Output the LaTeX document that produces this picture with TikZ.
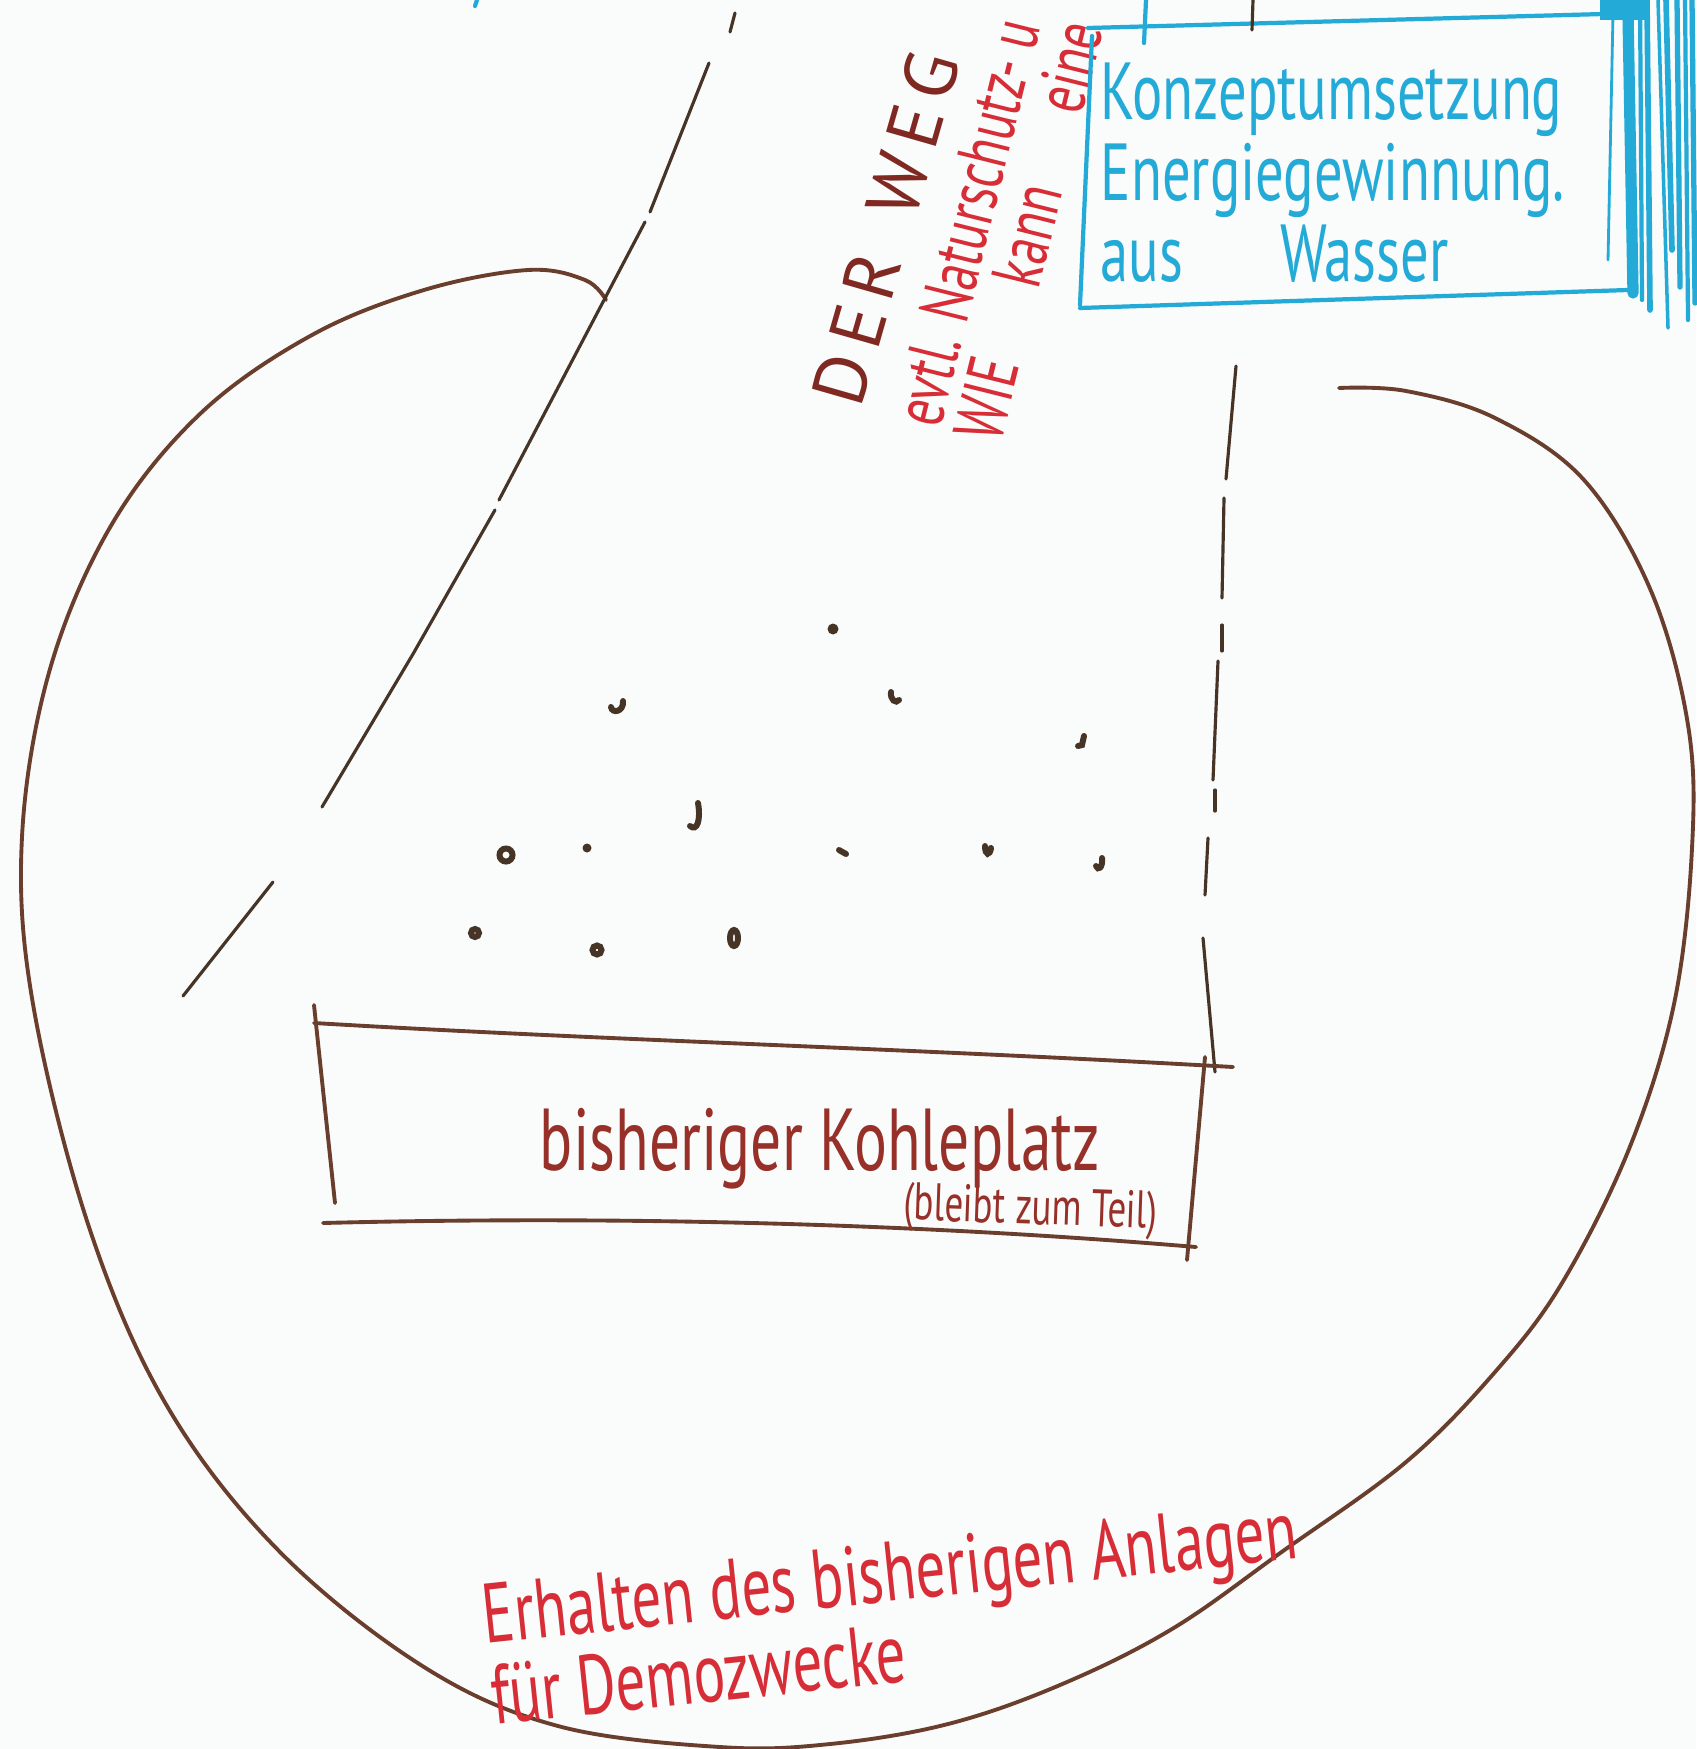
\documentclass[tikz,border=0pt]{standalone}
\usepackage{fontspec}
\setmainfont{PT Sans}
\newfontfamily\hand[FakeStretch=0.7]{PT Sans}
\usetikzlibrary{positioning}
\definecolor{board}{RGB}{250,251,251}
\definecolor{penbrown}{RGB}{105,62,45}
\definecolor{pendark}{RGB}{70,52,38}
\definecolor{inkbrown}{RGB}{150,48,40}
\definecolor{penred}{RGB}{215,45,55}
\definecolor{penblue}{RGB}{35,170,215}

\begin{document}
\begin{tikzpicture}[x = 0.01cm, y = -0.01cm,
		outline/.style = {draw = penbrown, line width = 1.1pt, line cap = round},
		pathline/.style = {draw = pendark, line width = 0.9pt, line cap = round},
		dotpen/.style = {draw = pendark, line width = 1.7pt, line cap = round},
		bluebox/.style = {draw = penblue, line width = 1.2pt, line cap = round},
		hatch/.style = {draw = penblue, line cap = round},
		boxtext/.style = {color = inkbrown, inner sep = 0},
		notetext/.style = {color = penred, inner sep = 0, align = left},
		bluetext/.style = {color = penblue, inner sep = 0, align = left}]
		\fill [board] (0,0) rectangle (1696,1749);
		\useasboundingbox (0,0) rectangle (1696,1749);
		% Big outline round the site
		\draw [outline] plot [smooth, tension = 0.6] coordinates {(606,300) (585,280) (528,270) (424,290) (312,335) (201,413) (112,524) (50,669) (22,837) (33,1004) (89,1227) (167,1406) (279,1551) (424,1667) (558,1726) (720,1747) (830,1744) (948,1724) (1060,1685) (1172,1629) (1283,1551) (1406,1462) (1495,1372) (1562,1283) (1629,1149) (1674,1004) (1692,848) (1688,725) (1651,591) (1584,480) (1495,418) (1406,391) (1339,388)};
		% The way (dashed diagonal)
		\draw [pathline] (735,13) -- (730,32);
		\draw [pathline] (709,63) -- (650,212);
		\draw [pathline] (645,222) -- (499,500);
		\draw [pathline] (495,510) -- (413,654) -- (322,807);
		\draw [pathline] (273,882) -- (183,996);
		% Dashed border on the right
		\draw [pathline] (1236,366) -- (1226,479);
		\draw [pathline] (1224,498) -- (1222,598);
		\draw [pathline] (1222,625) -- (1222,651);
		\draw [pathline] (1218,661) -- (1213,780);
		\draw [pathline] (1215,790) -- (1215,811);
		\draw [pathline] (1208,838) -- (1205,895);
		\draw [pathline] (1203,938) -- (1215,1072);
		% Coal yard box
		\draw [outline] (314,1005) -- (335,1203);
		\draw [outline] (314,1023) .. controls (600,1040) and (900,1048) .. (1233,1067);
		\draw [outline] (1205,1057) -- (1187,1260);
		\draw [outline] (323,1223) .. controls (600,1216) and (900,1222) .. (1196,1247);
		\node (yard) [boxtext, anchor = base, font = \hand\fontsize{25}{28}\selectfont] at (820,1170) {bisheriger Kohleplatz};
		\node (yardnote) [boxtext, anchor = base, rotate = -2, font = \hand\fontsize{15}{18}\selectfont] at (1030,1224) {(bleibt zum Teil)};
		% Dots on the yard
		\fill [pendark] (833,629) circle (5.5);
		\fill [pendark] (587,848) circle (4.5);
		\draw [dotpen] (506,855) circle (6.5);
		\draw [dotpen] (475,933) circle (4);
		\draw [dotpen] (597,950) circle (4.5);
		\draw [dotpen] (734,938) ellipse (4 and 8);
		\draw [dotpen] (623,701) .. controls (624,712) and (612,714) .. (611,707);
		\draw [dotpen] (891,692) .. controls (890,700) and (896,704) .. (899,700);
		\draw [dotpen] (1084,736) -- (1082,745) -- (1078,746);
		\draw [dotpen] (698,803) .. controls (701,820) and (697,832) .. (690,826);
		\draw [dotpen] (839,850) -- (846,854);
		\draw [dotpen] (985,846) .. controls (985,856) and (990,856) .. (991,848);
		\draw [dotpen] (1102,858) .. controls (1103,868) and (1098,871) .. (1096,866);
		% Labels along the way
		\node (way) [color = inkbrown!85!black, inner sep = 0, rotate = 74, font = \fontsize{21}{24}\selectfont] at (886,228) {D\kern3pt E\kern3pt R\hspace{12pt}W\kern3pt E\kern3pt G};
		\node (waynote1) [notetext, anchor = base west, rotate = 76, font = \hand\fontsize{20}{17}\selectfont] at (940,430) {evtl. Naturschutz- u};
		\node (waynote2) [notetext, anchor = base west, rotate = 76, font = \hand\fontsize{20}{17}\selectfont] at (1000,445) {WIE\hspace{1.1em}kann\hspace{1.1em}eine};
		% Water box
		\draw [bluebox] (1088,28) -- (1604,14);
		\draw [bluebox] (1092,36) -- (1080,305);
		\draw [bluebox] (1080,308) -- (1628,290);
		\draw [bluebox] (1146,0) -- (1144,43);
		\draw [pathline] (1253,0) -- (1252,30);
		\draw [bluebox] (477,0) -- (475,6);
		\node (water) [bluetext, anchor = north west, font = \hand\fontsize{23}{23}\selectfont] at (1100,62) {Konzeptumsetzung\\Energiegewinnung.\\aus\hspace{1.2em}Wasser};
		\fill [penblue] (1600,0) rectangle (1648,20);
		\draw [hatch, line width = 0.8pt] (1613,13) -- (1608,260);
		\draw [hatch, line width = 3.2pt] (1628,15) -- (1633,293);
		\draw [hatch, line width = 1.2pt] (1640,0) -- (1642,300);
		\draw [hatch, line width = 1.6pt] (1647,0) -- (1650,310);
		\draw [hatch, line width = 1pt] (1658,0) -- (1668,328);
		\draw [hatch, line width = 1.6pt] (1666,0) -- (1672,250);
		\draw [hatch, line width = 1.5pt] (1677,0) -- (1680,287);
		\draw [hatch, line width = 1.2pt] (1685,0) -- (1688,320);
		\draw [hatch, line width = 1.5pt] (1692,0) -- (1695,303);
		% Note at the bottom
		\node (keep) [notetext, anchor = west, rotate = 6, font = \hand\fontsize{24}{20}\selectfont] at (486,1655) {Erhalten des bisherigen Anlagen\\für Demozwecke};
	\end{tikzpicture}
\end{document}
